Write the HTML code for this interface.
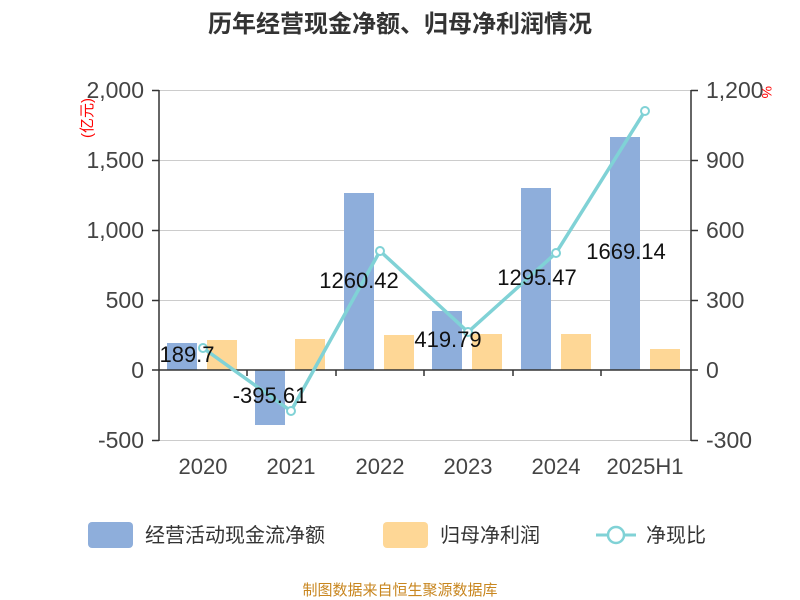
<!DOCTYPE html>
<html><head><meta charset="utf-8"><style>
body{margin:0;background:#fff;}
svg{display:block;font-family:"Liberation Sans","Noto Sans CJK SC",sans-serif;}
</style></head><body>
<svg width="800" height="600" viewBox="0 0 800 600">
<text x="400" y="32" text-anchor="middle" font-size="24" font-weight="bold" fill="#333">历年经营现金净额、归母净利润情况</text>
<g stroke="#ccc" stroke-width="1">
<line x1="159" y1="90.5" x2="691" y2="90.5"/>
<line x1="159" y1="160.5" x2="691" y2="160.5"/>
<line x1="159" y1="230.5" x2="691" y2="230.5"/>
<line x1="159" y1="300.5" x2="691" y2="300.5"/>
<line x1="159" y1="440.5" x2="691" y2="440.5"/>
</g>
<g fill="#8eaedb">
<rect x="167" y="343" width="30" height="27"/>
<rect x="255" y="370" width="30" height="55"/>
<rect x="344" y="193" width="30" height="177"/>
<rect x="432" y="311" width="30" height="59"/>
<rect x="521" y="188" width="30" height="182"/>
<rect x="610" y="137" width="30" height="233"/>
</g>
<g fill="#fed796">
<rect x="207" y="340" width="30" height="30"/>
<rect x="295" y="339" width="30" height="31"/>
<rect x="384" y="335" width="30" height="35"/>
<rect x="472" y="334" width="30" height="36"/>
<rect x="561" y="334" width="30" height="36"/>
<rect x="650" y="349" width="30" height="21"/>
</g>
<g stroke="#333" stroke-width="1.5">
<line x1="159" y1="90" x2="159" y2="441"/>
<line x1="691" y1="90" x2="691" y2="441"/>
<line x1="152" y1="370" x2="698" y2="370"/>
<line x1="152" y1="90.5" x2="159" y2="90.5"/><line x1="152" y1="160.5" x2="159" y2="160.5"/><line x1="152" y1="230.5" x2="159" y2="230.5"/><line x1="152" y1="300.5" x2="159" y2="300.5"/><line x1="152" y1="440.5" x2="159" y2="440.5"/>
<line x1="691" y1="90.5" x2="698" y2="90.5"/><line x1="691" y1="160.5" x2="698" y2="160.5"/><line x1="691" y1="230.5" x2="698" y2="230.5"/><line x1="691" y1="300.5" x2="698" y2="300.5"/><line x1="691" y1="440.5" x2="698" y2="440.5"/>
<line x1="247" y1="370" x2="247" y2="376"/><line x1="336" y1="370" x2="336" y2="376"/><line x1="424" y1="370" x2="424" y2="376"/><line x1="513" y1="370" x2="513" y2="376"/><line x1="601" y1="370" x2="601" y2="376"/>
</g>
<g font-size="23" fill="#444" text-anchor="end">
<text x="144" y="98">2,000</text><text x="144" y="168">1,500</text><text x="144" y="238">1,000</text><text x="144" y="308">500</text><text x="144" y="378">0</text><text x="144" y="448">-500</text>
</g>
<g font-size="23" fill="#444">
<text x="706" y="98">1,200</text><text x="706" y="168">900</text><text x="706" y="238">600</text><text x="706" y="308">300</text><text x="706" y="378">0</text><text x="706" y="448">-300</text>
</g>
<text transform="translate(92,118) rotate(-90)" font-size="15" fill="red" text-anchor="middle">(亿元)</text>
<text transform="translate(762,86) rotate(90)" font-size="14" fill="red">%</text>
<g font-size="22" fill="#444" text-anchor="middle">
<text x="203" y="474">2020</text><text x="291" y="474">2021</text><text x="380" y="474">2022</text><text x="468" y="474">2023</text><text x="556" y="474">2024</text><text x="645" y="474">2025H1</text>
</g>
<polyline points="203,348 291,411 380,251 468,332 556,253 645,111" fill="none" stroke="#80d2d6" stroke-width="3.5"/>
<g fill="#fff" stroke="#80d2d6" stroke-width="2">
<circle cx="203" cy="348" r="4"/><circle cx="291" cy="411" r="4"/><circle cx="380" cy="251" r="4"/><circle cx="468" cy="332" r="4"/><circle cx="556" cy="253" r="4"/><circle cx="645" cy="111" r="4"/>
</g>
<g font-size="22" fill="#111" text-anchor="middle">
<text x="187" y="362">189.7</text><text x="270" y="403">-395.61</text><text x="359" y="288">1260.42</text><text x="448" y="347">419.79</text><text x="537" y="285">1295.47</text><text x="626" y="259">1669.14</text>
</g>
<rect x="88" y="522" width="45" height="26" rx="4" fill="#8eaedb"/>
<text x="145" y="542" font-size="20" fill="#333">经营活动现金流净额</text>
<rect x="383" y="522" width="45" height="26" rx="4" fill="#fed796"/>
<text x="440" y="542" font-size="20" fill="#333">归母净利润</text>
<line x1="596" y1="535" x2="636" y2="535" stroke="#80d2d6" stroke-width="3"/>
<circle cx="616" cy="535" r="8" fill="#fff" stroke="#80d2d6" stroke-width="2.5"/>
<text x="646" y="542" font-size="20" fill="#333">净现比</text>
<text x="400" y="595" font-size="15" fill="#c8861f" text-anchor="middle">制图数据来自恒生聚源数据库</text>
</svg>
</body></html>
